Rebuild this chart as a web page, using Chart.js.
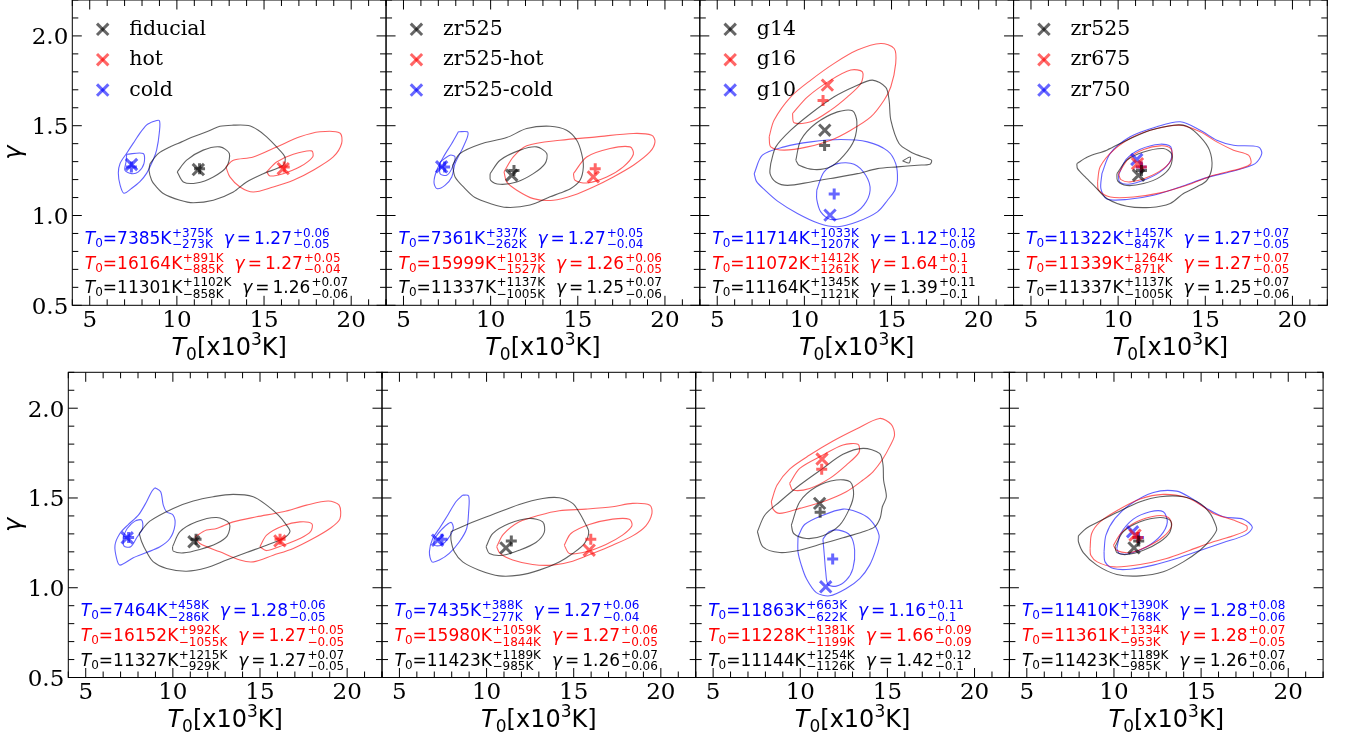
<!DOCTYPE html>
<html>
<head>
<meta charset="utf-8">
<script src="https://cdn.jsdelivr.net/npm/chart.js@4.4.1/dist/chart.umd.min.js"></script>
<style>
    html, body { margin: 0; padding: 0; background: #fff; }
    #fig { position: relative; width: 1346px; height: 739px; overflow: hidden; background: #fff; }
    #fig canvas { position: absolute; }
</style>
</head>
<body>
<div id="fig"></div>
<script>
// axes
const tRange = [4, 22];
const gammaRange = [0.5, 2.2];
const tTicks = [5, 10, 15, 20];
const gammaTicks = [0.5, 1.0, 1.5, 2.0];
const gammaTickLabels = ['0.5', '1.0', '1.5', '2.0'];

// ---- top row, panel 1 : fiducial / hot / cold
const p1Legend = ['fiducial', 'hot', 'cold'];
const p1BlackOuter = [[8.46,1.289],[8.93,1.345],[9.60,1.382],[10.27,1.410],[10.94,1.438],[11.71,1.466],[12.47,1.497],[13.24,1.503],[14.10,1.501],[14.67,1.475],[15.15,1.438],[15.72,1.382],[16.20,1.326],[16.10,1.280],[14.96,1.233],[14.00,1.187],[13.24,1.131],[12.09,1.085],[10.94,1.071],[10.18,1.085],[9.22,1.123],[8.74,1.169],[8.55,1.196],[8.40,1.252]];
const p1BlackInner = [[10.02,1.243],[10.56,1.308],[11.51,1.364],[12.47,1.382],[13.01,1.345],[12.85,1.271],[12.09,1.215],[11.13,1.181],[10.37,1.187]];
const p1RedOuter = [[12.81,1.271],[13.24,1.308],[14.38,1.326],[15.72,1.382],[17.06,1.438],[18.21,1.466],[19.35,1.460],[19.45,1.401],[18.97,1.326],[17.82,1.252],[16.68,1.196],[15.53,1.159],[14.38,1.131],[13.62,1.159],[13.04,1.215]];
const p1RedInner = [[15.15,1.243],[15.72,1.298],[16.68,1.341],[17.73,1.360],[17.79,1.326],[17.06,1.271],[16.10,1.233],[15.34,1.220]];
const p1BlueOuter = [[8.55,1.520],[8.99,1.529],[8.99,1.459],[8.84,1.366],[8.64,1.310],[8.27,1.236],[7.88,1.189],[7.41,1.152],[6.96,1.124],[6.74,1.171],[6.64,1.236],[6.74,1.290],[7.12,1.347],[7.50,1.403],[7.88,1.459],[8.27,1.505]];
const p1BlueInner = [[7.12,1.341],[8.07,1.345],[8.11,1.289],[7.79,1.243],[7.40,1.233],[7.02,1.252],[7.08,1.298]];
const p1Cross = [[11.23,1.256],[16.10,1.261],[7.40,1.284]];
const p1Plus = [[11.30,1.26],[16.16,1.27],[7.39,1.27]];
const p1Stats = [
    ['blue', '7385', '+375K', '\u2212273K', '1.27', '+0.06', '\u22120.05'],
    ['red', '16164', '+891K', '\u2212885K', '1.27', '+0.05', '\u22120.04'],
    ['black', '11301', '+1102K', '\u2212858K', '1.26', '+0.07', '\u22120.06']
];

// ---- top row, panel 2 : zr525
const p2Legend = ['zr525', 'zr525-hot', 'zr525-cold'];
const p2BlackOuter = [[7.82,1.280],[8.24,1.345],[9.39,1.397],[10.92,1.434],[12.07,1.484],[13.41,1.497],[14.36,1.475],[14.94,1.419],[15.22,1.345],[15.32,1.271],[15.13,1.196],[14.60,1.150],[13.98,1.125],[13.41,1.104],[12.26,1.058],[10.92,1.045],[9.97,1.067],[9.10,1.100],[8.53,1.150],[7.96,1.215]];
const p2BlackInner = [[9.97,1.233],[10.54,1.308],[11.69,1.364],[12.64,1.382],[13.22,1.345],[13.12,1.289],[12.45,1.233],[11.50,1.187],[10.54,1.174],[10.00,1.196]];
const p2RedOuter = [[10.77,1.243],[11.30,1.326],[12.07,1.388],[13.98,1.419],[16.08,1.438],[18.19,1.457],[19.24,1.447],[19.43,1.410],[19.14,1.354],[18.19,1.280],[17.04,1.215],[15.89,1.159],[14.75,1.113],[13.60,1.085],[12.45,1.094],[11.50,1.141],[10.92,1.187]];
const p2RedInner = [[14.75,1.233],[15.51,1.326],[16.85,1.373],[18.00,1.382],[18.19,1.341],[17.61,1.271],[16.66,1.215],[15.51,1.181],[14.84,1.196]];
const p2BlueOuter = [[8.15,1.466],[8.67,1.466],[8.67,1.438],[8.34,1.364],[7.96,1.289],[7.77,1.215],[7.38,1.168],[6.91,1.150],[6.75,1.187],[6.91,1.252],[7.29,1.326],[7.77,1.401]];
const p2BlueInner = [[7.10,1.298],[7.67,1.336],[7.96,1.326],[7.77,1.261],[7.48,1.224],[7.10,1.233]];
const p2Cross = [[11.21,1.224],[15.89,1.215],[7.19,1.271]];
const p2Plus = [[11.34,1.25],[16.00,1.26],[7.36,1.27]];
const p2Stats = [
    ['blue', '7361', '+337K', '\u2212262K', '1.27', '+0.05', '\u22120.04'],
    ['red', '15999', '+1013K', '\u22121527K', '1.26', '+0.06', '\u22120.05'],
    ['black', '11337', '+1137K', '\u22121005K', '1.25', '+0.07', '\u22120.06']
];

// ---- top row, panel 3 : gamma runs
const p3Legend = ['g14', 'g16', 'g10'];
const p3BlackOuter = [[8.07,1.289],[8.36,1.382],[9.22,1.475],[10.37,1.568],[11.71,1.661],[12.85,1.717],[13.90,1.754],[14.67,1.713],[14.86,1.642],[14.96,1.531],[15.43,1.401],[16.10,1.354],[16.68,1.330],[17.29,1.308],[17.21,1.286],[16.49,1.280],[15.34,1.271],[14.19,1.261],[13.04,1.233],[11.51,1.206],[10.37,1.187],[9.03,1.168],[8.36,1.187],[8.03,1.233]];
const p3BlackIsland = [[15.63,1.304],[16.07,1.326],[16.01,1.293]];
const p3BlackInner = [[9.51,1.308],[9.79,1.419],[10.65,1.512],[11.90,1.577],[12.76,1.583],[13.01,1.522],[12.85,1.419],[12.28,1.336],[11.51,1.271],[10.56,1.256],[9.70,1.280]];
const p3RedOuter = [[7.98,1.438],[8.26,1.531],[9.22,1.661],[10.37,1.754],[11.71,1.847],[13.04,1.921],[14.38,1.958],[15.15,1.930],[15.24,1.847],[14.96,1.717],[14.57,1.642],[13.81,1.549],[12.66,1.475],[11.51,1.419],[10.18,1.382],[8.84,1.364],[8.07,1.382]];
const p3RedInner = [[9.32,1.568],[10.18,1.661],[11.51,1.754],[12.66,1.810],[13.33,1.800],[13.24,1.735],[12.47,1.661],[11.51,1.587],[10.37,1.522],[9.41,1.516]];
const p3BlueOuter = [[7.12,1.233],[7.59,1.336],[8.84,1.382],[10.37,1.410],[12.09,1.423],[13.62,1.410],[14.77,1.360],[15.24,1.289],[15.34,1.196],[15.19,1.141],[14.77,1.085],[14.19,1.020],[13.04,0.965],[11.90,0.937],[10.85,0.955],[9.60,1.011],[8.46,1.080],[7.75,1.140],[7.25,1.190]];
const p3BlueInner = [[10.71,1.141],[11.13,1.243],[11.90,1.289],[12.85,1.286],[13.52,1.224],[13.77,1.141],[13.41,1.058],[12.66,1.002],[11.51,0.978],[10.94,1.020],[10.71,1.090]];
const p3Cross = [[11.17,1.475],[11.32,1.726],[11.47,1.002]];
const p3Plus = [[11.16,1.39],[11.07,1.64],[11.71,1.12]];
const p3Stats = [
    ['blue', '11714', '+1033K', '\u22121207K', '1.12', '+0.12', '\u22120.09'],
    ['red', '11072', '+1412K', '\u22121261K', '1.64', '+0.1', '\u22120.1'],
    ['black', '11164', '+1345K', '\u22121121K', '1.39', '+0.11', '\u22120.1']
];

// ---- top row, panel 4 : zr runs
const p4Legend = ['zr525', 'zr675', 'zr750'];
const p4BlackOuter = [[7.63,1.289],[8.24,1.326],[9.35,1.364],[10.50,1.419],[11.84,1.475],[13.18,1.503],[13.94,1.497],[14.71,1.438],[15.24,1.364],[15.38,1.271],[15.09,1.196],[14.52,1.160],[13.75,1.123],[12.99,1.067],[11.84,1.045],[10.50,1.052],[9.35,1.095],[8.68,1.160],[8.11,1.215],[7.67,1.261]];
const p4BlackInner = [[9.93,1.233],[10.50,1.308],[11.46,1.354],[12.60,1.373],[13.08,1.341],[12.99,1.271],[12.41,1.215],[11.46,1.178],[10.50,1.167],[9.97,1.193]];
const p4RedOuter = [[8.82,1.187],[8.97,1.271],[9.74,1.364],[10.88,1.438],[12.22,1.484],[13.56,1.503],[14.71,1.466],[15.66,1.410],[16.62,1.364],[17.48,1.336],[17.61,1.289],[17.00,1.261],[15.47,1.224],[13.94,1.168],[12.41,1.126],[10.88,1.103],[9.55,1.103],[8.88,1.141]];
const p4RedInner = [[10.02,1.233],[10.60,1.317],[11.46,1.367],[12.41,1.388],[13.02,1.373],[13.08,1.317],[12.60,1.261],[11.65,1.211],[10.69,1.187],[10.16,1.200]];
const p4BlueOuter = [[9.07,1.233],[9.54,1.345],[10.69,1.438],[12.22,1.494],[13.56,1.522],[14.71,1.475],[15.66,1.419],[16.62,1.391],[18.05,1.382],[18.24,1.345],[17.86,1.289],[16.62,1.248],[15.09,1.211],[13.56,1.159],[12.03,1.113],[10.50,1.089],[9.35,1.092],[9.01,1.150]];
const p4BlueInner = [[10.02,1.224],[10.46,1.312],[11.27,1.369],[12.41,1.397],[13.02,1.382],[13.02,1.308],[12.41,1.243],[11.46,1.196],[10.60,1.174],[10.08,1.187]];
const p4Cross = [[11.17,1.224],[11.11,1.289],[11.07,1.312]];
const p4Plus = [[11.34,1.25],[11.34,1.27],[11.32,1.27]];
const p4Stats = [
    ['blue', '11322', '+1457K', '\u2212847K', '1.27', '+0.07', '\u22120.05'],
    ['red', '11339', '+1264K', '\u2212871K', '1.27', '+0.07', '\u22120.05'],
    ['black', '11337', '+1137K', '\u22121005K', '1.25', '+0.07', '\u22120.06']
];

// ---- bottom row, panel 5
const p5BlackOuter = [[8.07,1.302],[8.68,1.371],[10.02,1.442],[11.17,1.483],[12.32,1.507],[13.46,1.520],[14.61,1.507],[15.38,1.460],[16.05,1.404],[16.52,1.349],[16.72,1.312],[16.33,1.274],[15.38,1.237],[14.23,1.196],[13.08,1.154],[11.93,1.111],[10.79,1.092],[9.64,1.107],[8.88,1.144],[8.49,1.200],[8.21,1.256]];
const p5BlackInner = [[9.98,1.228],[10.41,1.312],[11.36,1.367],[12.51,1.391],[13.24,1.358],[13.12,1.289],[12.51,1.246],[11.55,1.213],[10.60,1.194],[10.02,1.204]];
const p5RedOuter = [[11.27,1.284],[11.93,1.321],[12.51,1.330],[13.46,1.367],[14.80,1.395],[16.33,1.423],[17.67,1.460],[18.91,1.483],[19.54,1.460],[19.58,1.382],[19.01,1.330],[18.05,1.274],[16.91,1.219],[15.76,1.181],[14.61,1.144],[13.85,1.154],[12.70,1.200],[11.55,1.246]];
const p5RedInner = [[14.99,1.228],[15.38,1.293],[16.33,1.345],[17.29,1.367],[17.98,1.356],[17.90,1.312],[17.29,1.274],[16.33,1.237],[15.38,1.207]];
const p5BlueOuter = [[8.97,1.557],[9.30,1.535],[9.45,1.460],[9.64,1.423],[10.02,1.404],[10.12,1.349],[9.83,1.274],[9.26,1.228],[8.49,1.196],[7.73,1.167],[6.96,1.126],[6.77,1.163],[6.68,1.237],[6.96,1.302],[7.44,1.352],[8.02,1.404],[8.49,1.479],[8.78,1.535]];
const p5BlueInner = [[7.15,1.284],[7.38,1.330],[7.82,1.371],[8.21,1.377],[8.26,1.330],[7.96,1.284],[7.58,1.228],[7.19,1.233]];
const p5Cross = [[11.21,1.256],[16.14,1.261],[7.38,1.278]];
const p5Plus = [[11.33,1.27],[16.15,1.27],[7.46,1.28]];
const p5Stats = [
    ['blue', '7464', '+458K', '\u2212286K', '1.28', '+0.06', '\u22120.05'],
    ['red', '16152', '+992K', '\u22121055K', '1.27', '+0.05', '\u22120.05'],
    ['black', '11327', '+1215K', '\u2212929K', '1.27', '+0.07', '\u22120.05']
];

// ---- bottom row, panel 6
const p6BlackOuter = [[7.96,1.312],[9.01,1.358],[10.35,1.408],[11.88,1.464],[13.22,1.497],[14.17,1.501],[14.94,1.470],[15.32,1.419],[15.61,1.367],[15.86,1.312],[15.61,1.246],[14.94,1.191],[14.17,1.144],[13.02,1.098],[11.88,1.070],[10.73,1.066],[9.58,1.098],[8.63,1.144],[8.15,1.200],[7.96,1.265]];
const p6BlackInner = [[9.97,1.228],[10.35,1.302],[11.30,1.358],[12.45,1.386],[13.22,1.367],[13.31,1.308],[12.83,1.252],[11.88,1.209],[10.92,1.181],[10.16,1.191]];
const p6RedOuter = [[10.58,1.228],[10.96,1.297],[11.88,1.367],[13.02,1.404],[14.17,1.429],[15.70,1.438],[17.23,1.451],[18.38,1.470],[19.37,1.460],[19.49,1.414],[19.14,1.345],[18.38,1.289],[17.23,1.237],[16.08,1.191],[14.94,1.148],[13.79,1.126],[12.64,1.129],[11.50,1.154],[10.77,1.191]];
const p6RedInner = [[14.46,1.237],[14.84,1.302],[15.89,1.352],[17.23,1.382],[18.19,1.382],[18.34,1.345],[17.80,1.293],[16.85,1.241],[15.70,1.200],[14.75,1.191]];
const p6BlueOuter = [[8.63,1.516],[8.97,1.512],[8.97,1.423],[8.86,1.330],[8.44,1.256],[7.86,1.191],[7.29,1.154],[6.87,1.144],[6.72,1.200],[6.91,1.274],[7.29,1.330],[7.77,1.404],[8.24,1.479]];
const p6BlueInner = [[7.00,1.274],[7.48,1.330],[7.96,1.364],[8.09,1.330],[7.77,1.271],[7.38,1.237],[7.00,1.237]];
const p6Cross = [[11.11,1.222],[15.89,1.209],[7.19,1.265]];
const p6Plus = [[11.42,1.26],[15.98,1.27],[7.44,1.27]];
const p6Stats = [
    ['blue', '7435', '+388K', '\u2212277K', '1.27', '+0.06', '\u22120.04'],
    ['red', '15980', '+1059K', '\u22121844K', '1.27', '+0.06', '\u22120.05'],
    ['black', '11423', '+1189K', '\u2212985K', '1.26', '+0.07', '\u22120.06']
];

// ---- bottom row, panel 7
const p7BlackOuter = [[7.54,1.312],[7.96,1.404],[8.82,1.479],[9.97,1.572],[11.30,1.665],[12.45,1.743],[13.60,1.776],[14.55,1.748],[14.75,1.683],[14.78,1.600],[14.94,1.507],[14.71,1.451],[14.59,1.390],[14.27,1.339],[13.60,1.312],[12.45,1.278],[11.30,1.246],[9.97,1.209],[8.82,1.196],[7.86,1.228]];
const p7BlackInner = [[9.49,1.349],[9.97,1.479],[10.92,1.562],[12.07,1.600],[12.87,1.590],[13.06,1.520],[12.83,1.442],[12.26,1.349],[11.30,1.289],[10.35,1.274],[9.62,1.302]];
const p7RedOuter = [[8.34,1.479],[8.67,1.572],[9.39,1.661],[10.54,1.739],[11.88,1.817],[13.22,1.884],[14.55,1.943],[15.22,1.910],[15.41,1.851],[15.13,1.786],[14.75,1.720],[14.17,1.646],[13.60,1.600],[12.64,1.535],[11.30,1.479],[9.97,1.442],[8.82,1.414],[8.44,1.438]];
const p7RedInner = [[9.39,1.581],[9.97,1.665],[11.30,1.739],[12.45,1.795],[13.31,1.799],[13.37,1.754],[12.64,1.683],[11.69,1.609],[10.54,1.553],[9.58,1.544]];
const p7BlueOuter = [[9.87,1.284],[10.25,1.352],[11.30,1.404],[12.45,1.438],[13.22,1.423],[13.98,1.382],[14.52,1.293],[14.36,1.219],[13.98,1.126],[13.41,1.051],[12.64,0.996],[11.69,0.955],[10.92,0.973],[10.35,1.051],[10.06,1.126],[9.87,1.200]];
const p7BlueInner = [[11.30,1.271],[11.65,1.312],[12.22,1.321],[12.87,1.290],[13.12,1.209],[13.02,1.107],[12.64,1.042],[12.07,1.009],[11.59,1.018],[11.46,1.089],[11.38,1.181]];
const p7Cross = [[11.11,1.470],[11.25,1.717],[11.46,1.005]];
const p7Plus = [[11.14,1.42],[11.23,1.66],[11.86,1.16]];
const p7Stats = [
    ['blue', '11863', '+663K', '\u2212622K', '1.16', '+0.11', '\u22120.1'],
    ['red', '11228', '+1381K', '\u22121199K', '1.66', '+0.09', '\u22120.09'],
    ['black', '11144', '+1254K', '\u22121126K', '1.42', '+0.12', '\u22120.1']
];

// ---- bottom row, panel 8
const p8BlackOuter = [[7.96,1.289],[8.40,1.330],[9.11,1.367],[10.16,1.419],[11.50,1.479],[12.64,1.507],[13.98,1.507],[14.94,1.470],[15.51,1.414],[15.80,1.358],[15.89,1.321],[15.51,1.265],[14.94,1.209],[13.98,1.144],[12.83,1.089],[11.50,1.066],[10.16,1.074],[9.01,1.126],[8.24,1.196],[7.96,1.256]];
const p8BlackInner = [[10.06,1.228],[10.54,1.312],[11.50,1.367],[12.64,1.391],[13.25,1.373],[13.22,1.312],[12.64,1.256],[11.69,1.209],[10.73,1.185],[10.16,1.196]];
const p8RedOuter = [[8.63,1.219],[8.72,1.302],[9.20,1.367],[10.16,1.429],[11.50,1.494],[12.83,1.520],[14.17,1.503],[14.94,1.464],[15.70,1.414],[16.85,1.377],[17.61,1.345],[17.61,1.321],[16.85,1.290],[15.70,1.256],[14.36,1.209],[13.02,1.163],[11.50,1.129],[10.00,1.116],[9.04,1.144],[8.67,1.181]];
const p8RedInner = [[9.97,1.237],[10.39,1.302],[11.30,1.367],[12.45,1.401],[13.12,1.391],[13.31,1.345],[12.83,1.284],[11.88,1.228],[10.92,1.196],[10.16,1.207]];
const p8BlueOuter = [[9.43,1.200],[9.54,1.293],[10.06,1.386],[10.92,1.464],[12.26,1.531],[13.60,1.538],[14.46,1.497],[15.32,1.442],[16.28,1.395],[17.42,1.382],[17.94,1.336],[17.52,1.293],[16.28,1.252],[14.94,1.207],[13.60,1.163],[12.26,1.126],[10.92,1.103],[9.97,1.107],[9.49,1.144]];
const p8BlueInner = [[10.16,1.219],[10.39,1.302],[11.11,1.382],[12.07,1.423],[12.83,1.423],[13.06,1.364],[12.68,1.290],[11.88,1.228],[10.92,1.191],[10.31,1.191]];
const p8Cross = [[11.15,1.222],[11.21,1.293],[11.07,1.312]];
const p8Plus = [[11.42,1.26],[11.36,1.28],[11.41,1.28]];
const p8Stats = [
    ['blue', '11410', '+1390K', '\u2212768K', '1.28', '+0.08', '\u22120.06'],
    ['red', '11361', '+1334K', '\u2212953K', '1.28', '+0.07', '\u22120.05'],
    ['black', '11423', '+1189K', '\u2212985K', '1.26', '+0.07', '\u22120.06']
];

// couleurs (ordre des marqueurs : noir, rouge, bleu)
const markerOrder = ['black', 'red', 'blue'];
const lineCol = {black: 'rgba(0,0,0,0.62)', red: 'rgba(255,0,0,0.62)', blue: 'rgba(0,0,255,0.62)'};
const markCol = {black: 'rgba(0,0,0,0.6)', red: 'rgba(255,0,0,0.6)', blue: 'rgba(0,0,255,0.6)'};
const textCol = {blue: '#0000ff', red: '#ff0000', black: '#000000'};

const panels = [
    {contours: [['black', p1BlackOuter], ['black', p1BlackInner], ['red', p1RedOuter], ['red', p1RedInner], ['blue', p1BlueOuter], ['blue', p1BlueInner]], cross: p1Cross, plus: p1Plus, stats: p1Stats, legend: p1Legend},
    {contours: [['black', p2BlackOuter], ['black', p2BlackInner], ['red', p2RedOuter], ['red', p2RedInner], ['blue', p2BlueOuter], ['blue', p2BlueInner]], cross: p2Cross, plus: p2Plus, stats: p2Stats, legend: p2Legend},
    {contours: [['black', p3BlackOuter], ['black', p3BlackIsland], ['black', p3BlackInner], ['red', p3RedOuter], ['red', p3RedInner], ['blue', p3BlueOuter], ['blue', p3BlueInner]], cross: p3Cross, plus: p3Plus, stats: p3Stats, legend: p3Legend},
    {contours: [['black', p4BlackOuter], ['black', p4BlackInner], ['red', p4RedOuter], ['red', p4RedInner], ['blue', p4BlueOuter], ['blue', p4BlueInner]], cross: p4Cross, plus: p4Plus, stats: p4Stats, legend: p4Legend},
    {contours: [['black', p5BlackOuter], ['black', p5BlackInner], ['red', p5RedOuter], ['red', p5RedInner], ['blue', p5BlueOuter], ['blue', p5BlueInner]], cross: p5Cross, plus: p5Plus, stats: p5Stats, legend: null},
    {contours: [['black', p6BlackOuter], ['black', p6BlackInner], ['red', p6RedOuter], ['red', p6RedInner], ['blue', p6BlueOuter], ['blue', p6BlueInner]], cross: p6Cross, plus: p6Plus, stats: p6Stats, legend: null},
    {contours: [['black', p7BlackOuter], ['black', p7BlackInner], ['red', p7RedOuter], ['red', p7RedInner], ['blue', p7BlueOuter], ['blue', p7BlueInner]], cross: p7Cross, plus: p7Plus, stats: p7Stats, legend: null},
    {contours: [['black', p8BlackOuter], ['black', p8BlackInner], ['red', p8RedOuter], ['red', p8RedInner], ['blue', p8BlueOuter], ['blue', p8BlueInner]], cross: p8Cross, plus: p8Plus, stats: p8Stats, legend: null}
];

// position des cadres (px)
const rowTop = [0, 372.3];
const rowH = [305.3, 305.2];
const colLeft = [[72.3, 386.05, 699.8, 1013.55], [68.3, 382, 695.7, 1009.4]];
const colW = [313.75, 313.7];

const SANS = '"DejaVu Sans"';
const SERIF = '"DejaVu Serif"';

function loop(pts) {
    let d = pts.map(p => ({x: p[0], y: p[1]}));
    d.push({x: pts[0][0], y: pts[0][1]});
    return d;
}

function scriptPair(ctx, x, base, up, dn) {
    ctx.font = '12px ' + SANS;
    ctx.fillText(up, x, base - 7);
    ctx.fillText(dn, x, base + 4.5);
    return x + Math.max(ctx.measureText(up).width, ctx.measureText(dn).width);
}

// T0=...K^{+}_{-}  gamma = ...^{+}_{-}
function drawStat(ctx, x, base, s) {
    ctx.fillStyle = textCol[s[0]];
    ctx.textAlign = 'left';
    ctx.textBaseline = 'alphabetic';
    ctx.font = 'italic 17px ' + SANS;
    ctx.fillText('T', x, base);
    x += ctx.measureText('T').width;
    ctx.font = '12px ' + SANS;
    ctx.fillText('0', x, base + 3);
    x += ctx.measureText('0').width;
    ctx.font = '17px ' + SANS;
    let main = '=' + s[1] + 'K';
    ctx.fillText(main, x, base);
    x += ctx.measureText(main).width;
    x = scriptPair(ctx, x + 0.5, base, s[2], s[3]);
    x += 11;
    ctx.font = 'italic 17px ' + SANS;
    ctx.fillText('\u03b3', x, base);
    x += ctx.measureText('\u03b3').width + 3;
    ctx.font = '17px ' + SANS;
    ctx.fillText('=', x, base);
    x += ctx.measureText('=').width + 3;
    ctx.fillText(s[4], x, base);
    x += ctx.measureText(s[4]).width;
    scriptPair(ctx, x + 1, base, s[5], s[6]);
}

function line(ctx, x1, y1, x2, y2) {
    ctx.beginPath();
    ctx.moveTo(x1, y1);
    ctx.lineTo(x2, y2);
    ctx.stroke();
}

function framePlugin(p, showY) {
    return {
        id: 'frame',
        afterDraw(chart) {
            const ctx = chart.ctx;
            const a = chart.chartArea;
            const sx = chart.scales.x, sy = chart.scales.y;
            ctx.save();
            ctx.strokeStyle = '#000';
            ctx.lineWidth = 1;
            ctx.strokeRect(a.left, a.top, a.right - a.left, a.bottom - a.top);

            // ticks vers l'interieur, 4 cotes
            for (let v = tRange[0]; v <= tRange[1]; v++) {
                let px = sx.getPixelForValue(v);
                let len = v % 5 === 0 ? 9.5 : 6;
                line(ctx, px, a.bottom, px, a.bottom - len);
                line(ctx, px, a.top, px, a.top + len);
            }
            for (let k = 5; k <= 22; k++) {
                let py = sy.getPixelForValue(k / 10);
                let len = k % 5 === 0 ? 9.5 : 6;
                line(ctx, a.left, py, a.left + len, py);
                line(ctx, a.right, py, a.right - len, py);
            }

            // labels des ticks
            ctx.fillStyle = '#000';
            ctx.font = '23px ' + SERIF;
            ctx.textBaseline = 'alphabetic';
            ctx.textAlign = 'center';
            tTicks.forEach(v => ctx.fillText(String(v), sx.getPixelForValue(v), a.bottom + 21.5));
            if (showY) {
                ctx.textAlign = 'right';
                gammaTicks.forEach((v, i) => ctx.fillText(gammaTickLabels[i], a.left - 4, sy.getPixelForValue(v) + 8.4));
                ctx.save();
                ctx.translate(15, (a.top + a.bottom) / 2);
                ctx.rotate(-Math.PI / 2);
                ctx.textAlign = 'center';
                ctx.textBaseline = 'middle';
                ctx.font = 'italic 24px ' + SANS;
                ctx.fillText('\u03b3', 0, 0);
                ctx.restore();
            }

            // titre axe x : T_0[x10^3K]
            ctx.textAlign = 'left';
            ctx.textBaseline = 'alphabetic';
            const parts = [['italic 24px ' + SANS, 'T', 0], ['17px ' + SANS, '0', 5], ['24px ' + SANS, '[x10', 0], ['17px ' + SANS, '3', -10], ['24px ' + SANS, 'K]', 0]];
            let total = 0;
            parts.forEach(q => { ctx.font = q[0]; total += ctx.measureText(q[1]).width; });
            let tx = (a.left + a.right) / 2 - total / 2;
            let tb = a.bottom + 49.7;
            parts.forEach(q => {
                ctx.font = q[0];
                ctx.fillText(q[1], tx, tb + q[2]);
                tx += ctx.measureText(q[1]).width;
            });

            // legende
            if (p.legend) {
                p.legend.forEach((lab, i) => {
                    let cy = a.top + 29.3 + i * 30.4;
                    let cx = a.left + 30.4;
                    ctx.strokeStyle = markCol[markerOrder[i]];
                    ctx.lineWidth = 3;
                    line(ctx, cx - 5.7, cy - 5.7, cx + 5.7, cy + 5.7);
                    line(ctx, cx - 5.7, cy + 5.7, cx + 5.7, cy - 5.7);
                    ctx.fillStyle = '#000';
                    ctx.font = '20.5px ' + SERIF;
                    ctx.fillText(lab, a.left + 57, cy + 5.7);
                });
            }

            // valeurs
            const bases = [-61.5, -36.5, -12];
            p.stats.forEach((s, i) => drawStat(ctx, a.left + 12.5, a.bottom + bases[i], s));
            ctx.restore();
        }
    };
}

const fig = document.getElementById('fig');

panels.forEach((p, i) => {
    const r = i < 4 ? 0 : 1;
    const c = i % 4;
    const left = colLeft[r][c], top = rowTop[r], w = colW[r], h = rowH[r];
    const cl = c === 0 ? 0 : Math.floor(left) - 4;
    const ct = Math.max(0, Math.floor(top) - 4);
    const cw = Math.ceil(left + w + 4) - cl;
    const ch = Math.ceil(top + h + 62) - ct;

    const canvas = document.createElement('canvas');
    canvas.width = cw;
    canvas.height = ch;
    canvas.style.left = cl + 'px';
    canvas.style.top = ct + 'px';
    canvas.style.width = cw + 'px';
    canvas.style.height = ch + 'px';
    fig.appendChild(canvas);

    let datasets = [];
    p.contours.forEach(([col, pts]) => {
        datasets.push({
            data: loop(pts),
            showLine: true,
            borderColor: lineCol[col],
            borderWidth: 1.1,
            pointRadius: 0,
            tension: 0.3,
            fill: false,
            order: 2
        });
    });
    markerOrder.forEach((col, k) => {
        datasets.push({
            data: [{x: p.cross[k][0], y: p.cross[k][1]}],
            pointStyle: 'crossRot',
            pointRadius: 8,
            pointBorderWidth: 3,
            borderColor: markCol[col],
            backgroundColor: markCol[col],
            order: 1
        });
        datasets.push({
            data: [{x: p.plus[k][0], y: p.plus[k][1]}],
            pointStyle: 'cross',
            pointRadius: 5.5,
            pointBorderWidth: 3,
            borderColor: markCol[col],
            backgroundColor: markCol[col],
            order: 1
        });
    });

    new Chart(canvas, {
        type: 'scatter',
        data: {datasets: datasets},
        options: {
            responsive: false,
            animation: false,
            devicePixelRatio: 1,
            events: [],
            layout: {
                autoPadding: false,
                padding: {
                    left: left - cl,
                    top: top - ct,
                    right: cw - (left + w - cl),
                    bottom: ch - (top + h - ct)
                }
            },
            scales: {
                x: {type: 'linear', min: tRange[0], max: tRange[1], display: false},
                y: {type: 'linear', min: gammaRange[0], max: gammaRange[1], display: false}
            },
            plugins: {legend: {display: false}, tooltip: {enabled: false}}
        },
        plugins: [framePlugin(p, c === 0)]
    });
});
</script>
</body>
</html>
